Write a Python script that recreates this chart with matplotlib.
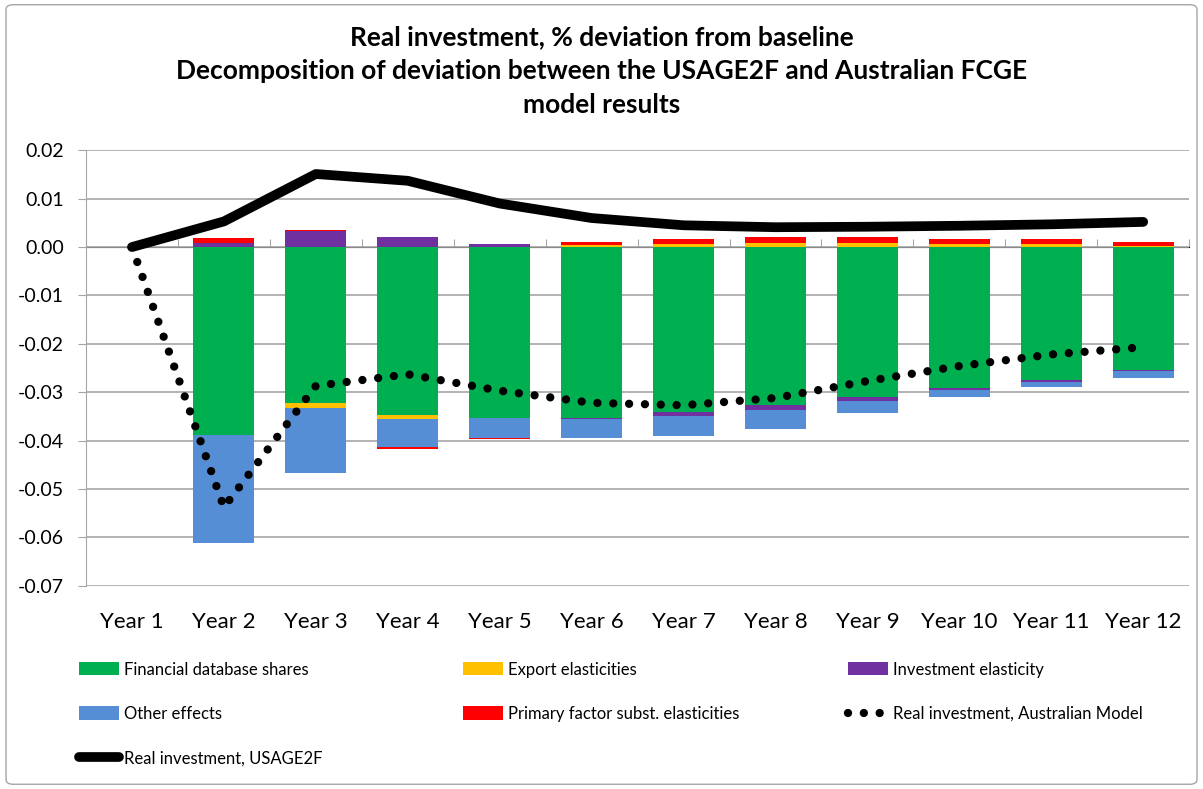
import matplotlib
matplotlib.use("Agg")
import matplotlib.pyplot as plt
import numpy as np
from matplotlib.patches import FancyBboxPatch, Patch
from matplotlib.lines import Line2D

plt.rcParams['font.family'] = ['Lato', 'DejaVu Sans']

years = ["Year 1", "Year 2", "Year 3", "Year 4", "Year 5", "Year 6",
         "Year 7", "Year 8", "Year 9", "Year 10", "Year 11", "Year 12"]

financial = [0, -0.0388, -0.0323, -0.0347, -0.0354, -0.0354, -0.0341, -0.0327, -0.0310, -0.0292, -0.0275, -0.0254]
export = [0, 0, -0.0009, -0.0008, 0, 0.0005, 0.0007, 0.0008, 0.0008, 0.0006, 0.0006, 0.0003]
investment = [0, 0.0009, 0.0033, 0.0021, 0.0007, -0.0002, -0.0008, -0.0010, -0.0008, -0.0003, -0.0003, -0.0003]
other = [0, -0.0223, -0.0136, -0.0059, -0.0041, -0.0039, -0.0041, -0.0039, -0.0025, -0.0014, -0.0012, -0.0014]
primary = [0, 0.0009, 0.0002, -0.0003, -0.0002, 0.0005, 0.0010, 0.0013, 0.0013, 0.0010, 0.0010, 0.0007]

aus_model = [0, -0.0538, -0.0287, -0.0263, -0.0297, -0.0322, -0.0327, -0.0312, -0.0277, -0.0246, -0.0222, -0.0207]
usage2f = [0, 0.0053, 0.0151, 0.0137, 0.0090, 0.0060, 0.0045, 0.0041, 0.0042, 0.0044, 0.0047, 0.0052]

series = [
    ("Financial database shares", financial, "#00B050"),
    ("Export elasticities", export, "#FFC000"),
    ("Investment elasticity", investment, "#7030A0"),
    ("Other effects", other, "#558ED5"),
    ("Primary factor subst. elasticities", primary, "#FF0000"),
]

fig = plt.figure(figsize=(12.03, 7.89), dpi=100)
ax = fig.add_axes([0.0715, 0.2577, 0.917, 0.5518])

x = np.arange(len(years))
pos_base = np.zeros(len(years))
neg_base = np.zeros(len(years))
for name, vals, col in series:
    v = np.array(vals)
    bottom = np.where(v >= 0, pos_base, neg_base)
    ax.bar(x, v, bottom=bottom, width=0.665, color=col, zorder=2)
    pos_base = pos_base + np.where(v > 0, v, 0)
    neg_base = neg_base + np.where(v < 0, v, 0)

ax.plot(x, usage2f, color="black", lw=7, solid_capstyle="round", solid_joinstyle="round", zorder=4)
ax.plot(x, aus_model, color="black", lw=6, linestyle=(0, (0.001, 1.9)),
        dash_capstyle="round", zorder=5)

ax.set_xlim(-0.5, len(years) - 0.5)
ax.set_ylim(-0.07, 0.02)
yt = np.arange(-0.07, 0.0201, 0.01)
ax.set_yticks(yt)
ax.set_yticklabels([f"{t:.2f}" if abs(t) > 1e-9 else "0.00" for t in yt])
ax.yaxis.grid(True, color="#a6a6a6", lw=1.2, zorder=0)
ax.set_axisbelow(True)
ax.tick_params(axis="y", length=6, color="#a6a6a6", pad=10, labelsize=14)
ax.set_xticks(x)
ax.set_xticklabels(years)
ax.tick_params(axis="x", length=0, pad=19, labelsize=16)
for s in ["top", "right", "bottom"]:
    ax.spines[s].set_visible(False)
ax.spines["left"].set_color("#a6a6a6")

# category axis crossing at zero
sec = ax.secondary_xaxis(0.07 / 0.09)
sec.set_xticks(np.arange(-0.5, len(years), 1.0))
sec.set_xticklabels([])
sec.tick_params(length=6, color="#a6a6a6", direction="out")
sec.spines["bottom"].set_color("#a6a6a6")
sec.spines["bottom"].set_linewidth(1.2)

fig.suptitle("Real investment, % deviation from baseline\n"
             "Decomposition of deviation between the USAGE2F and Australian FCGE\n"
             "model results", y=0.968, fontsize=19, fontweight="bold", linespacing=1.5)

h = {name: Patch(facecolor=col) for name, vals, col in series}
leg_kw = dict(frameon=False, fontsize=12, loc="upper left", handlelength=2.4,
              handleheight=0.85, handletextpad=0.3, labelspacing=1.7, borderaxespad=0)
l1 = fig.legend([h["Financial database shares"], h["Other effects"],
                 Line2D([], [], color="black", lw=7, solid_capstyle="round")],
                ["Financial database shares", "Other effects", "Real investment, USAGE2F"],
                bbox_to_anchor=(0.060, 0.170), **leg_kw)
l2 = fig.legend([h["Export elasticities"], h["Primary factor subst. elasticities"]],
                ["Export elasticities", "Primary factor subst. elasticities"],
                bbox_to_anchor=(0.379, 0.170), **leg_kw)
l3 = fig.legend([h["Investment elasticity"],
                 Line2D([], [], color="black", lw=6, linestyle=(0, (0.001, 1.9)), dash_capstyle="round")],
                ["Investment elasticity", "Real investment, Australian Model"],
                bbox_to_anchor=(0.699, 0.170), **leg_kw)

fig.patches.append(FancyBboxPatch((0.005, 0.006), 0.99, 0.988, boxstyle="round,pad=0,rounding_size=0.006",
                                  transform=fig.transFigure, fill=False, edgecolor="#a6a6a6", lw=1))

fig.savefig("out.png", dpi=100)
